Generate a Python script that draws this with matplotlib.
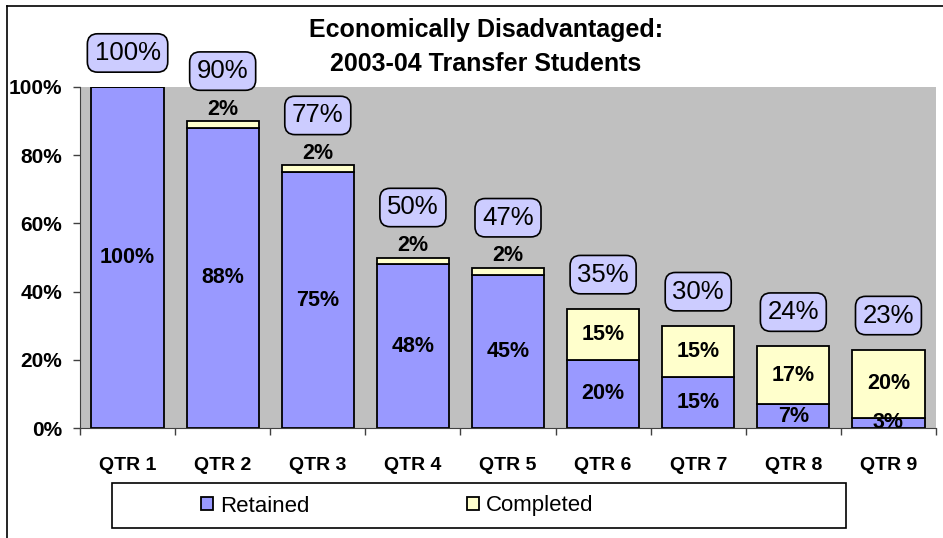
import matplotlib.pyplot as plt
import numpy as np
from matplotlib.patches import Rectangle
from matplotlib.lines import Line2D

plt.rcParams['font.family'] = ['Liberation Sans', 'DejaVu Sans']

quarters = ['QTR 1', 'QTR 2', 'QTR 3', 'QTR 4', 'QTR 5', 'QTR 6', 'QTR 7', 'QTR 8', 'QTR 9']
retained = [100, 88, 75, 48, 45, 20, 15, 7, 3]
completed = [0, 2, 2, 2, 2, 15, 15, 17, 20]
totals = [100, 90, 77, 50, 47, 35, 30, 24, 23]

W, H = 943, 538
fig = plt.figure(figsize=(W / 100, H / 100), dpi=100)

# outer chart border (only top and left visible)
fig.add_artist(Line2D([7 / W, 1], [1 - 6 / H, 1 - 6 / H], color='black', lw=1.2))
fig.add_artist(Line2D([7 / W, 7 / W], [0, 1 - 6 / H], color='black', lw=1.2))

ax = fig.add_axes([80 / W, 1 - 428 / H, (936 - 80) / W, (428 - 87) / H])
ax.set_facecolor('#C0C0C0')

x = np.arange(len(quarters))
ax.bar(x, retained, width=0.76, color='#9999FF', edgecolor='black', linewidth=1.3,
       label='Retained', zorder=2)
ax.bar(x, completed, width=0.76, bottom=retained, color='#FFFFCC', edgecolor='black',
       linewidth=1.3, label='Completed', zorder=2)

for i in range(len(quarters)):
    ax.text(x[i], retained[i] / 2, f'{retained[i]}%', ha='center', va='center',
            fontsize=15.5, fontweight='bold', zorder=3)
    off = 24.5
    if completed[i] >= 5:
        ax.text(x[i], retained[i] + completed[i] / 2, f'{completed[i]}%', ha='center',
                va='center', fontsize=15.5, fontweight='bold', zorder=3)
    elif completed[i] > 0:
        ax.annotate(f'{completed[i]}%', (x[i], totals[i]), xytext=(0, 1),
                    textcoords='offset points', ha='center', va='bottom',
                    fontsize=15.5, fontweight='bold', zorder=3)
        off = 36
    ax.annotate(f'{totals[i]}%', (x[i], totals[i]), xytext=(0, off),
                textcoords='offset points', ha='center', va='center', fontsize=18.5,
                annotation_clip=False, zorder=4,
                bbox=dict(boxstyle='round,pad=0.28,rounding_size=0.4', fc='#CCCCFF',
                          ec='black', lw=1.2))

ax.set_xlim(-0.5, len(quarters) - 0.5)
ax.set_ylim(0, 100)
ax.set_yticks(range(0, 101, 20))
ax.set_yticklabels([f'{v}%' for v in range(0, 101, 20)], fontsize=15, fontweight='bold')
ax.set_xticks(x)
ax.set_xticklabels(quarters, fontsize=14, fontweight='bold')
ax.set_xticks(np.arange(-0.5, len(quarters), 1), minor=True)
ax.tick_params(axis='x', which='major', length=0, pad=21)
ax.tick_params(axis='x', which='minor', length=5, width=1, color='#404040')
ax.tick_params(axis='y', length=5, width=1, color='#404040', pad=8)
for s in ['top', 'right']:
    ax.spines[s].set_visible(False)
for s in ['left', 'bottom']:
    ax.spines[s].set_color('#404040')

fig.text(486 / W, 1 - 30 / H, 'Economically Disadvantaged:', ha='center', va='center',
         fontsize=18, fontweight='bold')
fig.text(486 / W, 1 - 64 / H, '2003-04 Transfer Students', ha='center', va='center',
         fontsize=18, fontweight='bold')

# legend frame
fig.add_artist(Rectangle((112 / W, 1 - 528 / H), (846 - 112) / W, 45 / H,
                         transform=fig.transFigure, fc='white', ec='black', lw=1.2))
handles, labels = ax.get_legend_handles_labels()
fig.legend(handles, labels, loc='center left', bbox_to_anchor=(190 / W, 1 - 506 / H),
           ncol=2, frameon=False, fontsize=16, handlelength=0.55, handleheight=0.55,
           handletextpad=0.3, columnspacing=7.1, borderpad=0)

fig.savefig('out.png', dpi=100)
